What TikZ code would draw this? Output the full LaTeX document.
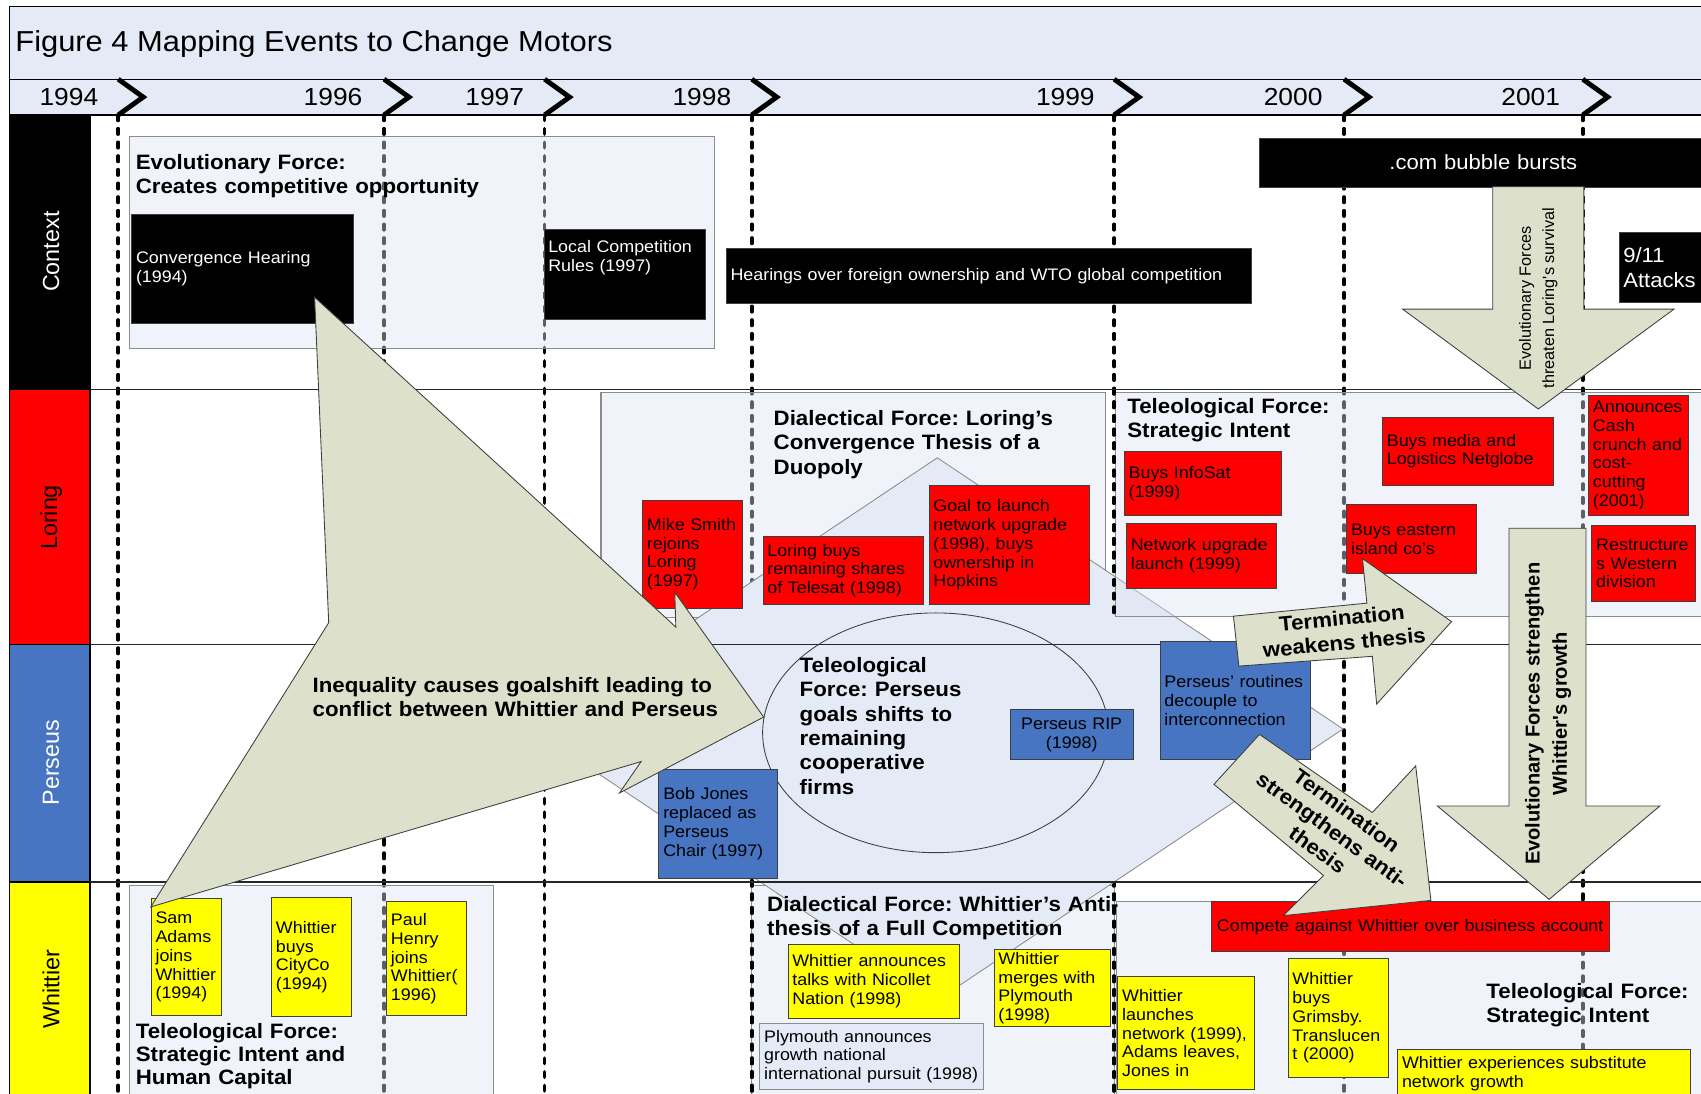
\documentclass[tikz,border=0pt]{standalone}
\usepackage{fontspec}
\setmainfont[FakeStretch=1.07]{Liberation Sans}
\newfontfamily\uprightsans{Liberation Sans}
\usetikzlibrary{shapes.geometric}

\definecolor{bandblue}{HTML}{E4EBF6}
\definecolor{panelblue}{HTML}{DCE4F2}
\definecolor{diamondblue}{HTML}{E5EBF6}
\definecolor{evred}{HTML}{FF0000}
\definecolor{evblue}{HTML}{4775C2}
\definecolor{evyellow}{HTML}{FFFF00}
\definecolor{arrowsage}{HTML}{DDE1CB}
\definecolor{edgegray}{HTML}{8C8C8C}
\definecolor{darkedge}{HTML}{3F3F3F}

\newcommand{\evtfont}{\fontsize{15.4}{17.3}\selectfont}
\newcommand{\headfont}{\fontsize{19.2}{22.6}\selectfont\bfseries}

\tikzset{
  band/.style={draw=black, line width=1pt, fill=bandblue},
  lanebox/.style={draw=black, line width=1pt},
  lanelabel/.style={rotate=90, inner sep=0pt, font=\uprightsans\fontsize{21.5}{24}\selectfont},
  yearlabel/.style={anchor=base, inner sep=0pt, font=\fontsize{22.7}{26}\selectfont},
  yearline/.style={line width=3.4pt, dash pattern=on 5pt off 7.6pt, line cap=round},
  chevron/.style={line width=4.5pt},
  separator/.style={draw=black!85, line width=1pt},
  panel/.style={draw=edgegray, line width=1pt, fill=panelblue, fill opacity=0.42},
  evt/.style={draw=darkedge, line width=0.8pt, anchor=north west, inner xsep=4pt, inner ysep=0pt, align=left, font=\evtfont},
  redevt/.style={evt, fill=evred},
  blueevt/.style={evt, fill=evblue},
  yelevt/.style={evt, fill=evyellow},
  blackevt/.style={evt, fill=black, text=white},
  heading/.style={anchor=base west, inner sep=0pt, align=left, font=\headfont},
  blockarrow/.style={draw=darkedge, line width=0.8pt, fill=arrowsage},
  arrowtext/.style={inner sep=0pt, align=center, font=\headfont},
}

\begin{document}
\frenchspacing
\begin{tikzpicture}[x=1pt, y=-1pt]
\useasboundingbox (0,0) rectangle (1568,1008);
\clip (0,0) rectangle (1568,1008);
\fill[white] (0,0) rectangle (1568,1008);

% title and timeline bands
\draw[band] (9,6) rectangle (1600,73);
\draw[band] (9,73) rectangle (1600,106);
\node[anchor=base west, inner sep=0pt, font=\fontsize{26.6}{30}\selectfont] (title) at (14,47.5) {Figure 4 Mapping Events to Change Motors};

% swimlane headers
\draw[lanebox, fill=black] (9,106) rectangle (83,359);
\draw[lanebox, fill=evred] (9,359) rectangle (83,594);
\draw[lanebox, fill=evblue] (9,594) rectangle (83,813);
\draw[lanebox, fill=evyellow] (9,813) rectangle (83,1020);
\node[lanelabel, text=white] (laneContext) at (47,232) {Context};
\node[lanelabel] (laneLoring) at (47,477) {Loring};
\node[lanelabel, text=white] (lanePerseus) at (47,703) {Perseus};
\node[lanelabel] (laneWhittier) at (47,912) {Whittier};

% year dividers and chevrons
\foreach \x in {109,354,502,693,1027,1239,1459}
  \draw[yearline] (\x,106) -- (\x,1015);
\foreach \x in {109,354,502,693,1027,1239,1459}
  \draw[chevron] (\x,73) -- (\x+23,89.5) -- (\x,106);
\node[yearlabel] (y1994) at (63.5,97.7) {1994};
\node[yearlabel] (y1996) at (307,97.7) {1996};
\node[yearlabel] (y1997) at (456,97.7) {1997};
\node[yearlabel] (y1998) at (647,97.7) {1998};
\node[yearlabel] (y1999) at (982,97.7) {1999};
\node[yearlabel] (y2000) at (1192,97.7) {2000};
\node[yearlabel] (y2001) at (1411,97.7) {2001};

% force panels
\draw[panel] (119,126) rectangle (659,321);
\draw[panel] (554,362) rectangle (1019,569);
\draw[panel] (119,816) rectangle (455,1020);
\draw[panel] (693,816) rectangle (1027,1020);

% dialectical diamond
\draw[draw=edgegray, line width=0.8pt, fill=diamondblue]
  (864,422) -- (1238,672) -- (864,922) -- (490,672) -- cycle;

\draw[panel] (1028,362) rectangle (1600,568);
\draw[panel] (1029,831) rectangle (1600,1020);

% dashed borders of the panels that sit on year dividers
\begin{scope}
  \clip (1020,361) rectangle (1035,568) (686,815) rectangle (700,1010) (1020,815) rectangle (1035,1010);
  \foreach \x in {693,1027}
    \draw[yearline] (\x,106) -- (\x,1015);
\end{scope}

% Perseus goal ellipse
\node[ellipse, draw=darkedge, line width=0.8pt, fill=diamondblue, minimum width=319pt, minimum height=221pt, inner sep=0pt] (goalEllipse) at (862.5,675.5) {};

% lane separators
\draw[separator] (83,359) -- (1600,359);
\draw[separator] (83,594) -- (1600,594);
\draw[separator] (83,813) -- (1600,813);

% context events
\node[blackevt, minimum width=204pt, minimum height=101pt, text width=196pt] (convHearing) at (121,197) {Convergence Hearing\\(1994)};
\node[blackevt, minimum width=149pt, minimum height=83pt, text width=141pt] (localRules) at (501,211) {Local Competition\\Rules (1997)\\\mbox{}\\\mbox{}};
\node[blackevt, minimum width=484pt, minimum height=50pt, text width=476pt] (foreignHearings) at (669,229) {Hearings over foreign ownership and WTO global competition};
\node[blackevt, align=center, minimum width=412pt, minimum height=45pt, text width=404pt, font=\fontsize{19}{23}\selectfont] (dotcom) at (1161,127) {.com bubble bursts};
\node[blackevt, minimum width=88pt, minimum height=64pt, text width=80pt, font=\fontsize{19}{23}\selectfont] (attacks) at (1492,214) {9/11\\Attacks};

% Loring events
\node[redevt, minimum width=92pt, minimum height=99pt, text width=84pt] (mikeSmith) at (592,461) {Mike Smith\\rejoins\\Loring\\(1997)};
\node[redevt, minimum width=148pt, minimum height=63pt, text width=140pt] (telesat) at (703,494) {Loring buys\\remaining shares\\of Telesat (1998)};
\node[redevt, minimum width=148pt, minimum height=110pt, text width=140pt] (goalUpgrade) at (856,447) {Goal to launch\\network upgrade\\(1998), buys\\ownership in\\Hopkins};
\node[redevt, minimum width=145pt, minimum height=59pt, text width=137pt] (infoSat) at (1036,416) {Buys InfoSat\\(1999)};
\node[redevt, minimum width=138pt, minimum height=60pt, text width=130pt] (netLaunch) at (1038,482) {Network upgrade\\launch (1999)};
\node[redevt, minimum width=158pt, minimum height=63pt, text width=150pt] (netglobe) at (1274,384) {Buys media and\\Logistics Netglobe};
\node[redevt, minimum width=120pt, minimum height=63pt, text width=112pt] (eastern) at (1241,465) {Buys eastern\\island co's};
\node[redevt, minimum width=92pt, minimum height=111pt, text width=84pt] (cashCrunch) at (1464,364) {Announces\\Cash\\crunch and\\cost-\\cutting\\(2001)};
\node[redevt, minimum width=95pt, minimum height=70pt, text width=87pt] (restructure) at (1467,484) {Restructure\\s Western\\division};

% Perseus events
\node[blueevt, align=center, minimum width=113pt, minimum height=46pt, text width=105pt] (perseusRip) at (931,654) {Perseus RIP\\(1998)};
\node[blueevt, minimum width=109pt, minimum height=100pt, text width=101pt] (bobJones) at (607,709) {Bob Jones\\replaced as\\Perseus\\Chair (1997)};
\node[blueevt, minimum width=139pt, minimum height=109pt, text width=131pt] (routines) at (1069,591) {Perseus' routines\\decouple to\\interconnection};

% Whittier events
\node[yelevt, minimum width=65pt, minimum height=108pt, text width=57pt] (samAdams) at (139,828) {Sam\\Adams\\joins\\Whittier\\(1994)};
\node[yelevt, minimum width=74pt, minimum height=110pt, text width=66pt] (cityCo) at (250,827) {Whittier\\buys\\CityCo\\(1994)};
\node[yelevt, minimum width=74pt, minimum height=105pt, text width=66pt] (paulHenry) at (356,831) {Paul\\Henry\\joins\\Whittier(\\1996)};
\node[yelevt, minimum width=158pt, minimum height=68pt, text width=150pt] (nicollet) at (726,870) {Whittier announces\\talks with Nicollet\\Nation (1998)};
\node[yelevt, minimum width=107pt, minimum height=71pt, text width=99pt] (plymouthMerge) at (916,875) {Whittier\\merges with\\Plymouth\\(1998)};
\node[evt, fill=diamondblue, draw=edgegray, minimum width=206pt, minimum height=61pt, text width=198pt] (plymouthGrowth) at (700,943) {Plymouth announces\\growth national\\international pursuit (1998)};
\node[redevt, align=center, minimum width=367pt, minimum height=46pt, text width=359pt] (compete) at (1116,831) {Compete against Whittier over business account};
\node[yelevt, minimum width=126pt, minimum height=104pt, text width=118pt] (whitLaunch) at (1030,900) {Whittier\\launches\\network (1999),\\Adams leaves,\\Jones in};
\node[yelevt, minimum width=92pt, minimum height=110pt, text width=84pt] (grimsby) at (1187,883) {Whittier\\buys\\Grimsby.\\Translucen\\t (2000)};
\node[yelevt, minimum width=270pt, minimum height=44pt, text width=262pt] (substitute) at (1288,967) {Whittier experiences substitute\\network growth};

% force headings
\node[heading, text width=400pt] (evoHead) at (125,156) {Evolutionary Force:\\Creates competitive opportunity};
\node[heading, text width=300pt] (loringDialHead) at (713,392) {Dialectical Force: Loring's\\Convergence Thesis of a\\Duopoly};
\node[heading, text width=300pt] (loringTeleoHead) at (1039,381) {Teleological Force:\\Strategic Intent};
\node[heading, text width=200pt, font=\fontsize{19.2}{22.4}\selectfont\bfseries] (perseusHead) at (737,620) {Teleological\\Force: Perseus\\goals shifts to\\remaining\\cooperative\\firms};
\node[heading, text width=330pt, font=\fontsize{19.2}{21.3}\selectfont\bfseries] (whitLeftHead) at (125,957) {Teleological Force:\\Strategic Intent and\\Human Capital};
\node[heading, text width=330pt] (whitDialHead) at (707,840) {Dialectical Force: Whittier's Anti-\\thesis of a Full Competition};
\node[heading, text width=250pt] (whitRightHead) at (1370,920) {Teleological Force:\\Strategic Intent};

% block arrows
\draw[blockarrow] (1376,172) -- (1460,172) -- (1460,285) -- (1543,285) -- (1418,377) -- (1293,285) -- (1376,285) -- cycle;
\node[rotate=90, inner sep=0pt, align=center, font=\uprightsans\fontsize{15}{21.4}\selectfont] (threatText) at (1418,275) {Evolutionary Forces\\threaten Loring's survival};

\draw[blockarrow] (1391,487) -- (1462,487) -- (1462,743) -- (1530,743) -- (1428,829) -- (1325,743) -- (1391,743) -- cycle;
\node[rotate=90, inner sep=0pt, align=center, font=\uprightsans\fontsize{18.5}{25}\selectfont\bfseries] (strengthenText) at (1427,658) {Evolutionary Forces strengthen\\Whittier's growth};

\draw[blockarrow] (290,274) -- (623,578) -- (622,546) -- (704,661) -- (571,731) -- (591,702) -- (139,836) -- (303,574) -- cycle;
\node[heading, text width=400pt] (inequalityText) at (288,638) {Inequality causes goalshift leading to\\conflict between Whittier and Perseus};

\draw[blockarrow] (1137,568) -- (1260,556) -- (1256,515) -- (1338,573) -- (1269,649) -- (1265,605) -- (1142,614) -- cycle;
\node[arrowtext, rotate=5.5] (weakensText) at (1238,581) {Termination\\weakens thesis};

\draw[blockarrow] (1161,677) -- (1265,749) -- (1305,706) -- (1319,830) -- (1183,844) -- (1220,807) -- (1119,723) -- cycle;
\node[arrowtext, rotate=-36] (strengthensText) at (1228,765) {Termination\\strengthens anti-\\thesis};
\end{tikzpicture}
\end{document}
